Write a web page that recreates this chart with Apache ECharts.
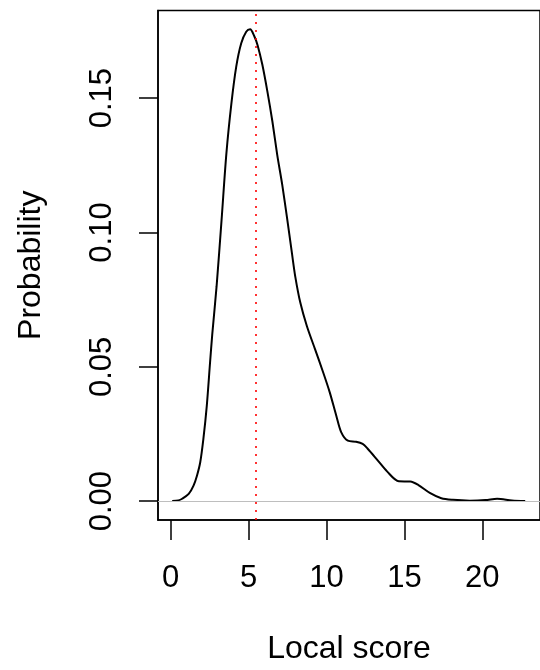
<!DOCTYPE html>
<html>
<head>
<meta charset="utf-8">
<script src="https://cdn.jsdelivr.net/npm/echarts@6/dist/echarts.min.js"></script>
<style>
  html, body { margin: 0; padding: 0; background: #fff; overflow: hidden; }
  #chart { width: 540px; height: 670px; }
</style>
</head>
<body>
<div id="chart"></div>
<script>
var myChart = echarts.init(document.getElementById('chart'));

// density estimate
var scoreX = [0.1, 0.5, 0.74, 1.16, 1.47, 1.69, 1.9, 2.1, 2.32, 2.53, 2.67, 2.95, 3.27, 3.58,
    3.9, 4.21, 4.53, 4.85, 5.1, 5.37, 5.58, 5.89, 6.21, 6.53, 6.84, 7.16, 7.47, 7.79, 8.0,
    8.32, 8.74, 9.27, 9.79, 10.21, 10.63, 10.95, 11.37, 11.9, 12.32, 12.63, 13.27, 13.9,
    14.64, 15.37, 15.9, 16.63, 17.37, 18.11, 19.2, 20.2, 20.95, 21.9, 22.75];
var density = [0.0001, 0.0003, 0.0009, 0.0027, 0.0058, 0.0095, 0.0145, 0.0231, 0.0355, 0.0516,
    0.0620, 0.0800, 0.1048, 0.1295, 0.1480, 0.1617, 0.1704, 0.1747, 0.1756, 0.1730, 0.1697,
    0.1623, 0.1524, 0.1413, 0.1289, 0.1178, 0.1054, 0.0920, 0.0835, 0.0739, 0.0652, 0.0565,
    0.0479, 0.0405, 0.0318, 0.0256, 0.0225, 0.0221, 0.0213, 0.0196, 0.0153, 0.0110, 0.0074,
    0.0073, 0.0060, 0.0031, 0.0011, 0.0005, 0.0002, 0.0004, 0.0009, 0.0003, 0.0001];

var xTicks = [0, 5, 10, 15, 20];
var yTicks = [0, 0.05, 0.10, 0.15];
var redLineX = 5.45;

var points = [];
for (var i = 0; i < scoreX.length; i++) {
    points.push([scoreX[i], density[i]]);
}

var font = 'Liberation Sans, Arial, Helvetica, sans-serif';

option = {
    backgroundColor: '#fff',
    animation: false,
    grid: {
        left: 158,
        top: 10.5,
        right: -5,
        bottom: 149.3,
        show: true,
        borderColor: '#000',
        borderWidth: 1.5,
        backgroundColor: 'transparent'
    },
    xAxis: {
        type: 'value',
        min: -0.81,
        max: 23.7,
        name: 'Local score',
        nameLocation: 'middle',
        nameGap: 113,
        nameTextStyle: {color: '#000', fontSize: 32, fontFamily: font},
        axisLine: {show: true, onZero: false, lineStyle: {color: '#000', width: 1.5}},
        axisTick: {show: true, length: 20, customValues: xTicks, lineStyle: {color: '#000', width: 1.5}},
        axisLabel: {
            customValues: xTicks,
            margin: 43,
            color: '#000',
            fontSize: 31,
            fontFamily: font
        },
        splitLine: {show: false}
    },
    yAxis: {
        type: 'value',
        min: -0.007,
        max: 0.1826,
        name: 'Probability',
        nameLocation: 'middle',
        nameRotate: 90,
        nameGap: 111,
        nameTextStyle: {color: '#000', fontSize: 32, fontFamily: font},
        axisLine: {show: true, onZero: false, lineStyle: {color: '#000', width: 1.5}},
        axisTick: {show: true, length: 19, customValues: yTicks, lineStyle: {color: '#000', width: 1.5}},
        axisLabel: {
            customValues: yTicks,
            rotate: 90,
            margin: 40,
            color: '#000',
            fontSize: 31,
            fontFamily: font,
            formatter: function (v) { return v.toFixed(2); }
        },
        splitLine: {show: false}
    },
    series: [{
        type: 'line',
        data: points,
        smooth: 0.3,
        symbol: 'none',
        lineStyle: {color: '#000', width: 2},
        markLine: {
            silent: true,
            symbol: 'none',
            label: {show: false},
            data: [
                {yAxis: 0, lineStyle: {color: '#bebebe', width: 1.2, type: 'solid'}},
                {xAxis: redLineX, lineStyle: {color: '#ff0000', width: 1.6, type: [2, 6]}}
            ]
        },
        z: 3
    }]
};
myChart.setOption(option);
</script>
</body>
</html>
